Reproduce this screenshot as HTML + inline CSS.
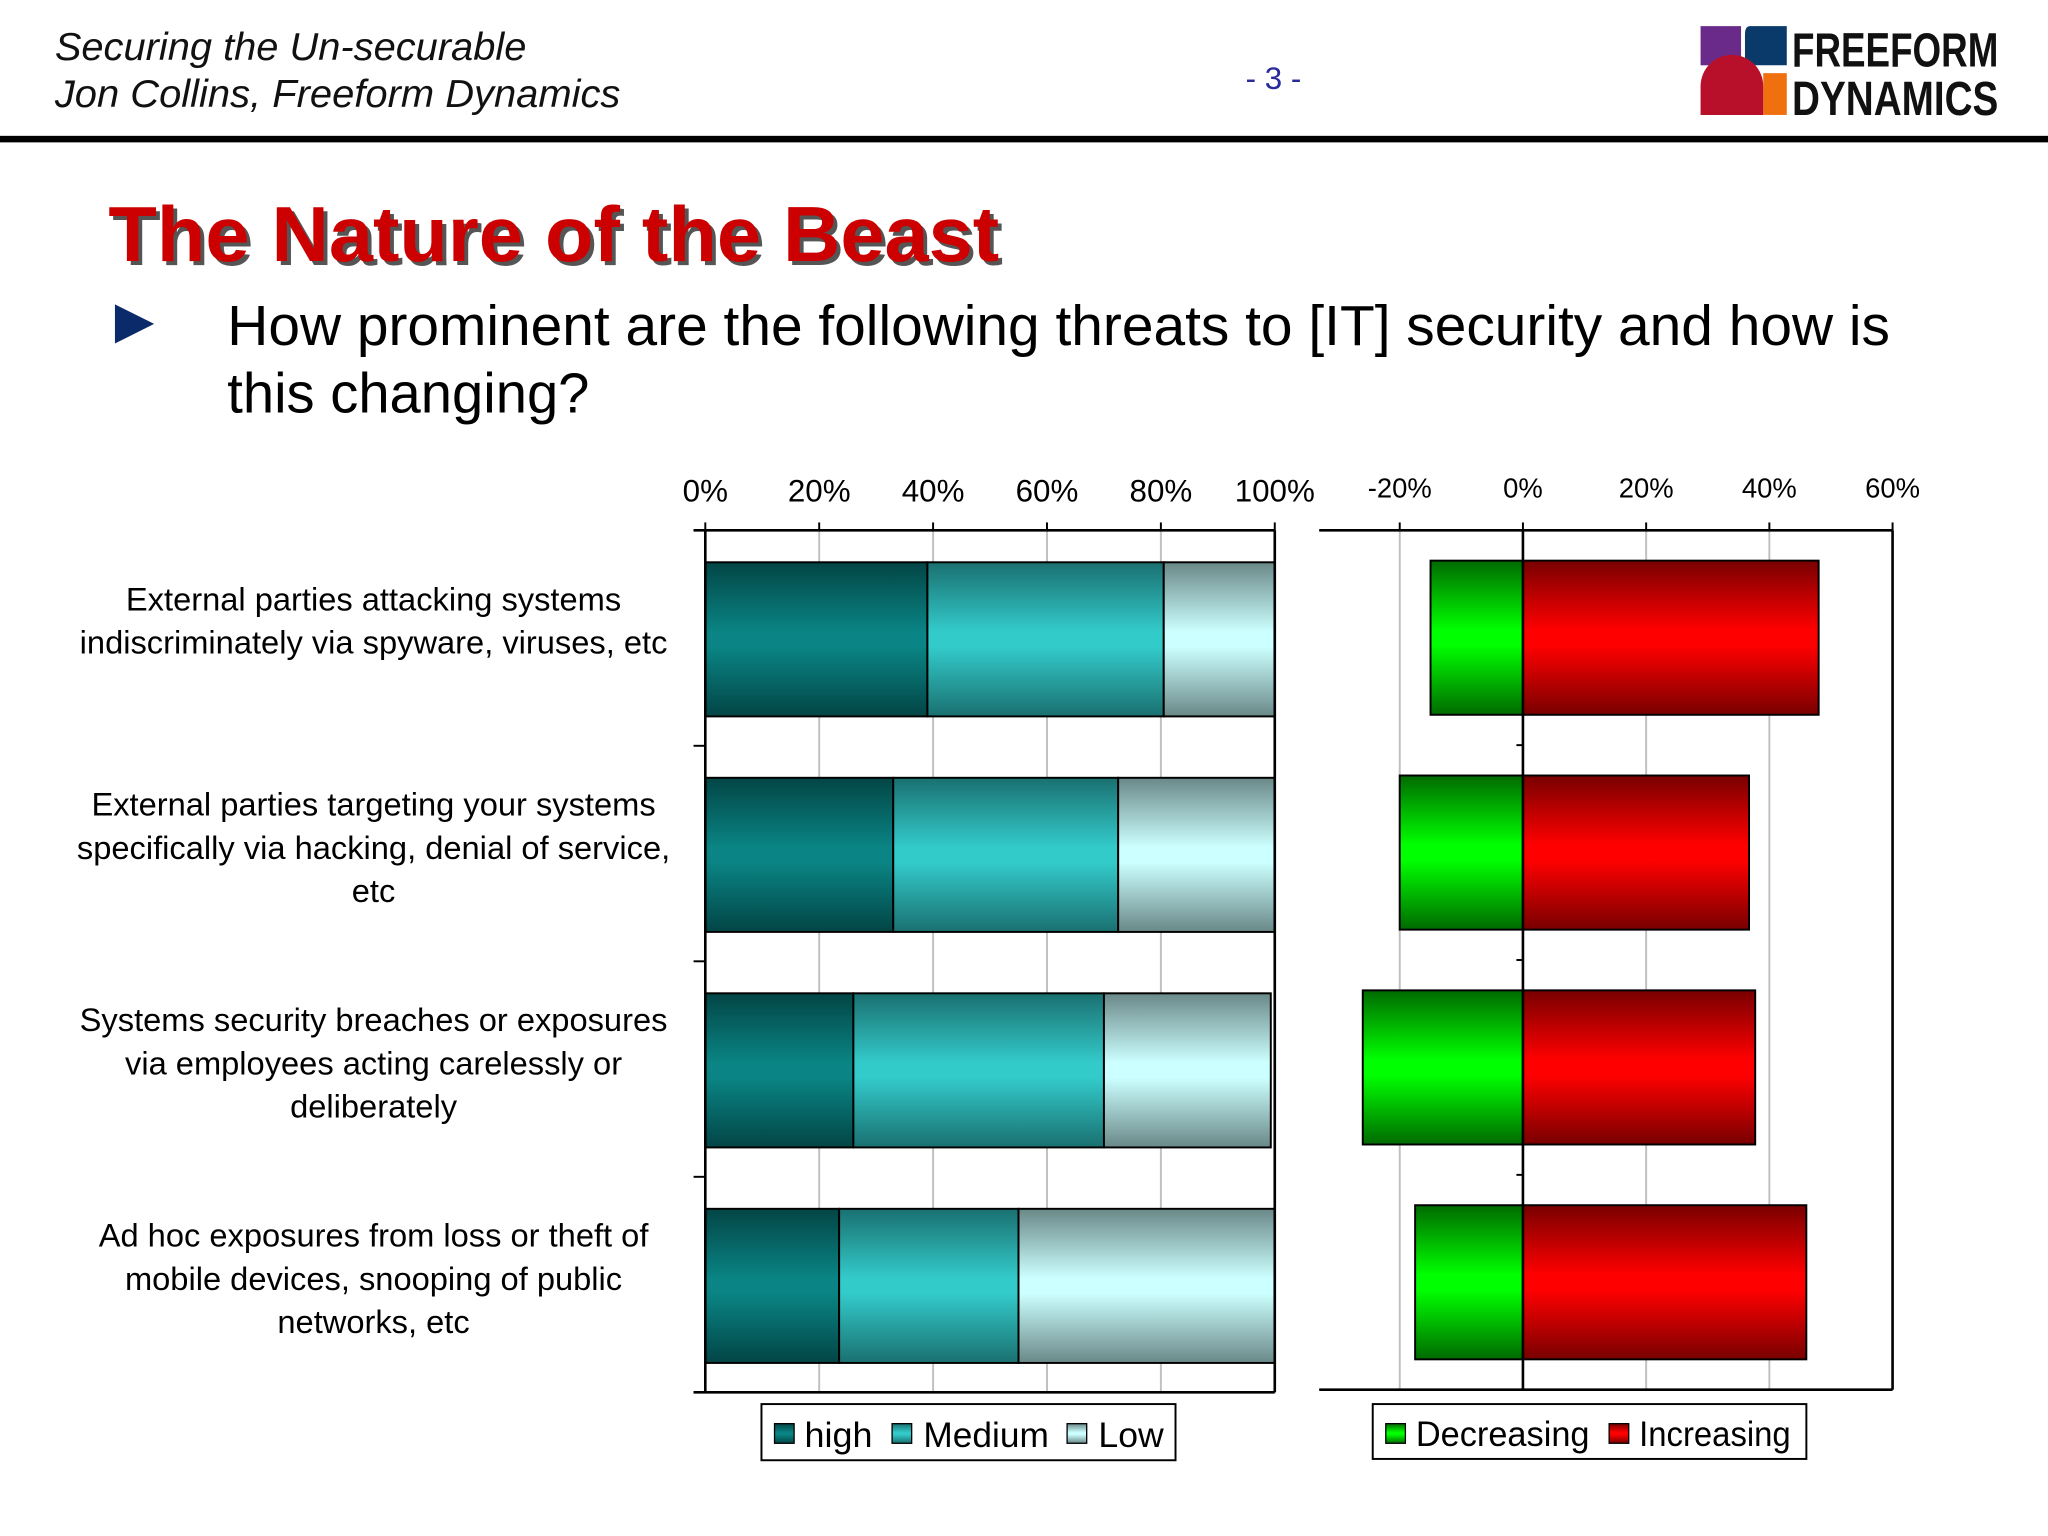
<!DOCTYPE html>
<html><head><meta charset="utf-8"><style>
html,body{margin:0;padding:0;background:#fff;}
svg{display:block;}
text{font-family:"Liberation Sans",Arial,sans-serif;}
</style></head><body>
<svg id="s" width="2048" height="1536" viewBox="0 0 1568 1176" xmlns="http://www.w3.org/2000/svg">
<defs>
<linearGradient id="gHigh" x1="0" y1="0" x2="0" y2="1"><stop offset="0" stop-color="#034545"/><stop offset="0.45" stop-color="#0a8484"/><stop offset="0.55" stop-color="#0a8484"/><stop offset="1" stop-color="#034545"/></linearGradient>
<linearGradient id="gMed" x1="0" y1="0" x2="0" y2="1"><stop offset="0" stop-color="#1a7070"/><stop offset="0.45" stop-color="#33caca"/><stop offset="0.55" stop-color="#33caca"/><stop offset="1" stop-color="#1a7070"/></linearGradient>
<linearGradient id="gLow" x1="0" y1="0" x2="0" y2="1"><stop offset="0" stop-color="#6a8888"/><stop offset="0.45" stop-color="#ccffff"/><stop offset="0.55" stop-color="#ccffff"/><stop offset="1" stop-color="#6a8888"/></linearGradient>
<linearGradient id="gDec" x1="0" y1="0" x2="0" y2="1"><stop offset="0" stop-color="#006a00"/><stop offset="0.45" stop-color="#00ff00"/><stop offset="0.55" stop-color="#00ff00"/><stop offset="1" stop-color="#006a00"/></linearGradient>
<linearGradient id="gInc" x1="0" y1="0" x2="0" y2="1"><stop offset="0" stop-color="#780000"/><stop offset="0.45" stop-color="#ff0000"/><stop offset="0.55" stop-color="#ff0000"/><stop offset="1" stop-color="#780000"/></linearGradient>
</defs>
<g>
<text x="42" y="46" font-size="30" font-style="italic" fill="#111" textLength="361" lengthAdjust="spacingAndGlyphs">Securing the Un-securable</text>
<text x="42" y="82" font-size="30" font-style="italic" fill="#111" textLength="433" lengthAdjust="spacingAndGlyphs">Jon Collins, Freeform Dynamics</text>
<text x="975" y="68" font-size="24" fill="#2a2a9a" text-anchor="middle">- 3 -</text>
<rect x="0" y="104" width="1568" height="5" fill="#000"/>
<g>
<rect x="1302" y="20" width="31" height="30" fill="#6a2a8a"/>
<path d="M1340 20 H1368 V50 H1336 V26 Q1336 20 1340 20 Z" fill="#0a3a6a"/>
<rect x="1350" y="56" width="18" height="32" fill="#f07010"/>
<path d="M1326 42 A24 24 0 0 1 1350 66 V88 H1302 V66 A24 24 0 0 1 1326 42 Z" fill="#b8102a"/>
<text x="1372" y="51" font-size="37" font-weight="bold" fill="#111" textLength="158" lengthAdjust="spacingAndGlyphs">FREEFORM</text>
<text x="1372" y="88" font-size="37" font-weight="bold" fill="#111" textLength="158" lengthAdjust="spacingAndGlyphs">DYNAMICS</text>
</g>
</g>
<text x="86" y="203" font-size="60" font-weight="bold" fill="#555" textLength="682" lengthAdjust="spacingAndGlyphs">The Nature of the Beast</text>
<text x="83" y="200" font-size="60" font-weight="bold" fill="#cc0000" textLength="682" lengthAdjust="spacingAndGlyphs">The Nature of the Beast</text>
<polygon points="88,233 118,248 88,263" fill="#0a2a6a"/>
<text x="174" y="264" font-size="43" fill="#000" textLength="1273" lengthAdjust="spacingAndGlyphs">How prominent are the following threats to [IT] security and how is</text>
<text x="174" y="316" font-size="43" fill="#000">this changing?</text>
<g id="left"></g>
<g id="right"></g>
<g>
<rect x="583" y="1075" width="317" height="43" fill="#fff" stroke="#000" stroke-width="1.5"/>
<rect x="593" y="1090" width="15" height="15" fill="url(#gHigh)" stroke="#000"/><text x="616" y="1108" font-size="27" textLength="52" lengthAdjust="spacingAndGlyphs">high</text>
<rect x="683" y="1090" width="15" height="15" fill="url(#gMed)" stroke="#000"/><text x="707" y="1108" font-size="27" textLength="96" lengthAdjust="spacingAndGlyphs">Medium</text>
<rect x="817" y="1090" width="15" height="15" fill="url(#gLow)" stroke="#000"/><text x="841" y="1108" font-size="27" textLength="50" lengthAdjust="spacingAndGlyphs">Low</text>
</g>
<g>
<rect x="1051" y="1075" width="332" height="42" fill="#fff" stroke="#000" stroke-width="1.5"/>
<rect x="1061" y="1090" width="15" height="15" fill="url(#gDec)" stroke="#000"/><text x="1084" y="1107" font-size="27" textLength="133" lengthAdjust="spacingAndGlyphs">Decreasing</text>
<rect x="1232" y="1090" width="15" height="15" fill="url(#gInc)" stroke="#000"/><text x="1255" y="1107" font-size="27" textLength="116" lengthAdjust="spacingAndGlyphs">Increasing</text>
</g>
</svg>
<script>
const categories = [
 ["External parties attacking systems","indiscriminately via spyware, viruses, etc"],
 ["External parties targeting your systems","specifically via hacking, denial of service,","etc"],
 ["Systems security breaches or exposures","via employees acting carelessly or","deliberately"],
 ["Ad hoc exposures from loss or theft of","mobile devices, snooping of public","networks, etc"]
];
const highVals = [39, 33, 26, 23.5];
const mediumVals = [41.5, 39.5, 44, 31.5];
const lowVals = [19.5, 27.5, 29.3, 45];
const decreasingVals = [-15, -20, -26, -17.5];
const increasingVals = [48, 36.7, 37.7, 46];
const leftTicks = [0, 20, 40, 60, 80, 100];
const rightTicks = [-20, 0, 20, 40, 60];

const NS = "http://www.w3.org/2000/svg";
function mk(parent, tag, attrs){const e=document.createElementNS(NS,tag);for(const k in attrs)e.setAttribute(k,attrs[k]);parent.appendChild(e);return e;}
const top0=406, bot=1066, band=(bot-top0)/4, barH=118;
const xL = v => 540 + v*(976-540)/100;
const xR = v => 1166 + v*(1449-1166)/60;
const yBand = i => top0 + i*band;

const L=document.getElementById('left');
leftTicks.forEach(t=>{
 if(t>0&&t<100){const g=mk(L,'line',{x1:xL(t),x2:xL(t),y1:top0,y2:bot,stroke:'#c0c0c0','stroke-width':1.5});
 
 }
 const tx=mk(L,'text',{x:xL(t),y:384,'font-size':24,'text-anchor':'middle'});tx.textContent=t+'%';
 
 
 mk(L,'line',{x1:xL(t),x2:xL(t),y1:top0-6,y2:top0,stroke:'#000','stroke-width':1.5});
});
categories.forEach((c,i)=>{
 const y=yBand(i)+(band-barH)/2+1;
 let acc=0;
 [[highVals,'gHigh','bar-high'],[mediumVals,'gMed','bar-medium'],[lowVals,'gLow','bar-low']].forEach(([arr,g,n])=>{
  const r=mk(L,'rect',{x:xL(acc),y:y,width:xL(acc+arr[i])-xL(acc),height:barH,fill:'url(#'+g+')',stroke:'#000','stroke-width':1.5});
  
  
  acc+=arr[i];
 });
 const cy=yBand(i)+band/2;
 const n=c.length, lh=33, y0=(n==2)? cy-21 : cy-(n-1)*lh/2+4;
 c.forEach((ln,k)=>{const t=mk(L,'text',{x:286,y:y0+k*lh,'font-size':25,'text-anchor':'middle'});t.textContent=ln;
  
  });
});
for(let i=0;i<=4;i++) mk(L,'line',{x1:531,x2:540,y1:yBand(i),y2:yBand(i),stroke:'#000','stroke-width':1.5});
mk(L,'line',{x1:531,x2:976,y1:top0,y2:top0,stroke:'#000','stroke-width':2});
mk(L,'line',{x1:531,x2:976,y1:bot,y2:bot,stroke:'#000','stroke-width':2});
mk(L,'line',{x1:540,x2:540,y1:top0,y2:bot,stroke:'#000','stroke-width':2});
mk(L,'line',{x1:976,x2:976,y1:top0,y2:bot,stroke:'#000','stroke-width':2});

const R=document.getElementById('right');
const rb=1064, rband=(rb-top0)/4;
rightTicks.forEach(t=>{
 if(t!==0&&t<60){const g=mk(R,'line',{x1:xR(t),x2:xR(t),y1:top0,y2:rb,stroke:'#c0c0c0','stroke-width':1.5});
 
 }
 const tx=mk(R,'text',{x:xR(t),y:381,'font-size':21,'text-anchor':'middle'});tx.textContent=t+'%';
 
 
 mk(R,'line',{x1:xR(t),x2:xR(t),y1:top0-6,y2:top0,stroke:'#000','stroke-width':1.5});
});
categories.forEach((c,i)=>{
 const y=top0+i*rband+(rband-barH)/2;
 const d=mk(R,'rect',{x:xR(decreasingVals[i]),y:y,width:xR(0)-xR(decreasingVals[i]),height:barH,fill:'url(#gDec)',stroke:'#000','stroke-width':1.5});
 
 
 const r=mk(R,'rect',{x:xR(0),y:y,width:xR(increasingVals[i])-xR(0),height:barH,fill:'url(#gInc)',stroke:'#000','stroke-width':1.5});
 
 
});
for(let i=1;i<4;i++) mk(R,'line',{x1:xR(0)-5,x2:xR(0),y1:top0+i*rband,y2:top0+i*rband,stroke:'#000','stroke-width':1.5});
mk(R,'line',{x1:1010,x2:1449,y1:top0,y2:top0,stroke:'#000','stroke-width':2});
mk(R,'line',{x1:1010,x2:1449,y1:rb,y2:rb,stroke:'#000','stroke-width':2});
mk(R,'line',{x1:1449,x2:1449,y1:top0,y2:rb,stroke:'#000','stroke-width':2});
mk(R,'line',{x1:xR(0),x2:xR(0),y1:top0,y2:rb,stroke:'#000','stroke-width':2});
</script>
</body></html>
